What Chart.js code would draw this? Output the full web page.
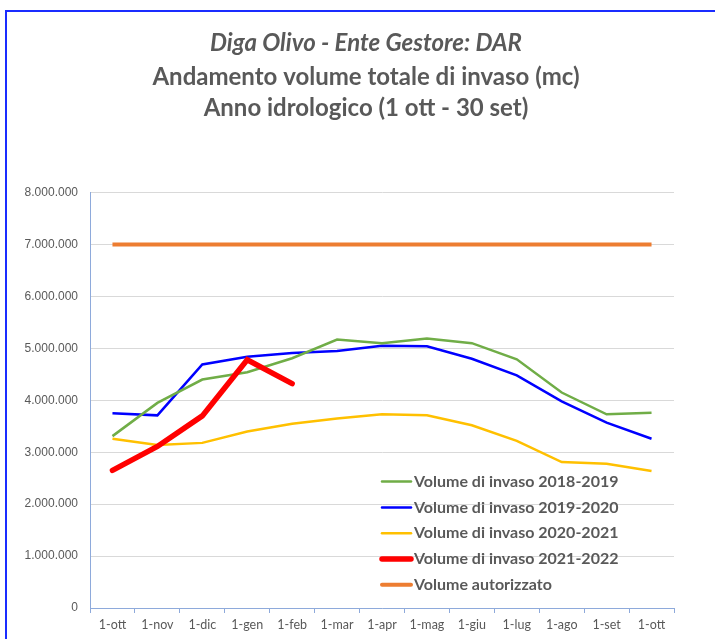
<!DOCTYPE html>
<html>
<head>
<meta charset="utf-8">
<script src="https://cdn.jsdelivr.net/npm/chart.js@4"></script>
<style>
  html, body { margin: 0; padding: 0; background: #fff; }
  #wrap { position: relative; width: 715px; height: 639px; }
  #frame { position: absolute; left: 5px; top: 10px; right: 0; bottom: 0;
           border-top: 2px solid #1a2cff; border-left: 2px solid #1a2cff; }
  canvas { position: absolute; left: 0; top: 0; }
</style>
</head>
<body>
<div id="wrap">
  <div id="frame"></div>
  <canvas id="myChart" width="715" height="639"></canvas>
</div>
<script>
// months of the hydrological year
const mesi = ['1-ott', '1-nov', '1-dic', '1-gen', '1-feb', '1-mar', '1-apr',
              '1-mag', '1-giu', '1-lug', '1-ago', '1-set', '1-ott'];

// volumes (mc)
const vol1819 = [3310000, 3950000, 4400000, 4540000, 4810000, 5170000, 5100000,
                 5190000, 5100000, 4790000, 4150000, 3730000, 3760000];
const vol1920 = [3750000, 3710000, 4690000, 4840000, 4910000, 4950000, 5050000,
                 5040000, 4800000, 4480000, 3980000, 3570000, 3260000];
const vol2021 = [3260000, 3140000, 3180000, 3400000, 3550000, 3650000, 3730000,
                 3710000, 3520000, 3220000, 2810000, 2780000, 2640000];
const vol2122 = [2650000, 3110000, 3700000, 4780000, 4320000];
const autorizzato = [7000000, 7000000, 7000000, 7000000, 7000000, 7000000, 7000000,
                     7000000, 7000000, 7000000, 7000000, 7000000, 7000000];

const grigio = '#595959';
const fonte = 'Lato, "Open Sans", sans-serif';
const fonteY = '"Liberation Sans", Arial, sans-serif';

function puntini(v) {
  return String(v).replace(/\B(?=(\d{3})+(?!\d))/g, '.');
}

// legend drawn inside the plot, bottom right
const legendaInterna = {
  id: 'legendaInterna',
  afterDraw(chart) {
    const c = chart.ctx;
    const a = chart.chartArea;
    let x = a.left + 290;
    let y = a.top + 289;
    c.save();
    c.font = 'bold 16px ' + fonte;
    c.textBaseline = 'middle';
    chart.data.datasets.forEach(ds => {
      c.strokeStyle = ds.borderColor;
      c.lineWidth = ds.borderWidth;
      c.lineCap = 'round';
      c.beginPath();
      c.moveTo(x + 2, y);
      c.lineTo(x + 31, y);
      c.stroke();
      c.fillStyle = grigio;
      c.fillText(ds.label, x + 34, y);
      y += 25.8;
    });
    c.restore();
  }
};

var ctx = document.getElementById('myChart');

var myChart = new Chart(ctx, {
  type: 'line',
  data: {
    labels: mesi,
    datasets: [
      { label: 'Volume di invaso 2018-2019', data: vol1819, borderColor: '#70ad47', borderWidth: 2.5, order: 1 },
      { label: 'Volume di invaso 2019-2020', data: vol1920, borderColor: '#0000ff', borderWidth: 2.5, order: 1 },
      { label: 'Volume di invaso 2020-2021', data: vol2021, borderColor: '#ffc000', borderWidth: 2.5, order: 1 },
      { label: 'Volume di invaso 2021-2022', data: vol2122, borderColor: '#ff0000', borderWidth: 5.5, order: 0, borderCapStyle: 'round' },
      { label: 'Volume autorizzato', data: autorizzato, borderColor: '#ed7d31', borderWidth: 4, order: 2 }
    ]
  },
  options: {
    responsive: false,
    animation: false,
    elements: { point: { radius: 0 }, line: { tension: 0 } },
    layout: { padding: { top: 20, left: 17, right: 0, bottom: 3 } },
    plugins: {
      legend: { display: false },
      tooltip: { enabled: false },
      title: {
        display: true,
        text: 'Diga Olivo - Ente Gestore: DAR',
        color: grigio,
        font: { family: fonte, size: 24, style: 'italic', weight: 'bold', lineHeight: 1.3 },
        padding: { top: 8, bottom: 2 }
      },
      subtitle: {
        display: true,
        text: ['Andamento volume totale di invaso (mc)', 'Anno idrologico (1 ott - 30 set)'],
        color: grigio,
        font: { family: fonte, size: 24, weight: 'bold', lineHeight: 1.3 },
        padding: { top: 0, bottom: 69 }
      }
    },
    scales: {
      x: {
        offset: true,
        grid: { offset: true, drawOnChartArea: false, drawTicks: true, tickLength: 5, color: '#8eaadb' },
        border: { color: '#8eaadb' },
        ticks: { color: grigio, font: { family: fonte, size: 12.5 }, maxRotation: 0, autoSkip: false, padding: 4 }
      },
      y: {
        min: 0,
        max: 8000000,
        afterFit: s => { s.width = 73; },
        grid: { color: '#d9d9d9', drawTicks: false },
        border: { color: '#8eaadb' },
        ticks: { stepSize: 1000000, color: grigio, font: { family: fonteY, size: 12 }, padding: 12,
                 callback: v => puntini(v) }
      },
      // empty space on the right side of the plot
      destra: {
        type: 'linear',
        position: 'right',
        afterFit: s => { s.width = 41; },
        ticks: { display: false },
        grid: { display: false },
        border: { display: false }
      }
    }
  },
  plugins: [legendaInterna]
});
</script>
</body>
</html>
